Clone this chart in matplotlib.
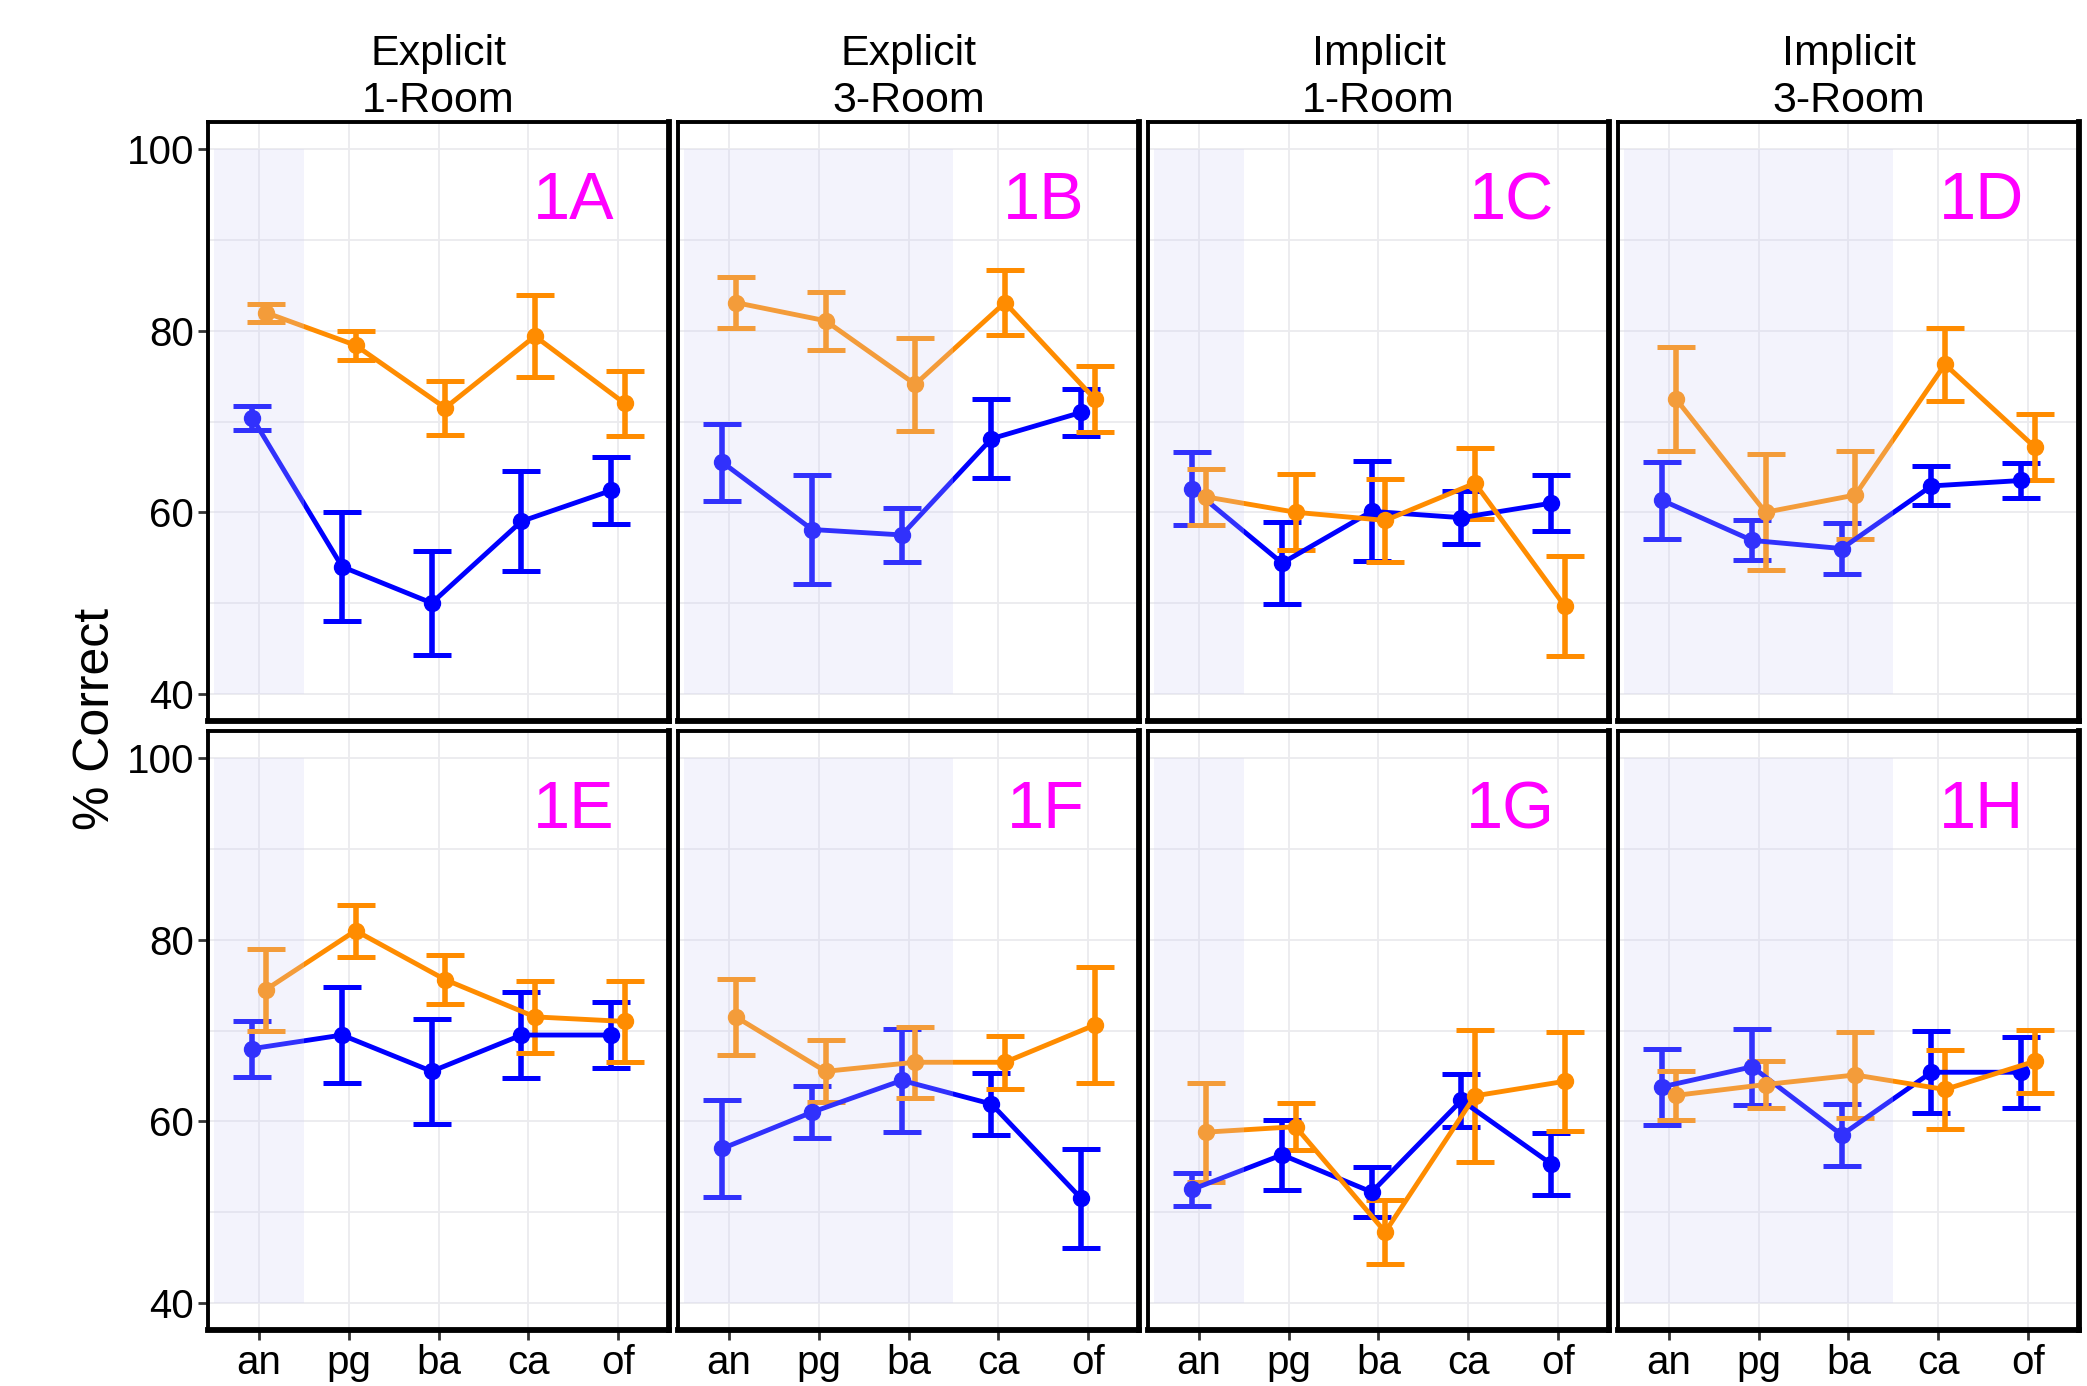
import matplotlib
matplotlib.use("Agg")
import matplotlib.pyplot as plt
import numpy as np

plt.rcParams['font.family'] = ['Liberation Sans', 'DejaVu Sans']

categories = ["an", "pg", "ba", "ca", "of"]
column_titles = ["Explicit\n1-Room", "Explicit\n3-Room", "Implicit\n1-Room", "Implicit\n3-Room"]
panel_labels = ["1A", "1B", "1C", "1D", "1E", "1F", "1G", "1H"]
y_ticks = [40, 60, 80, 100]
shade_end = [0.5, 2.5, 0.5, 2.5]

blue_1A = [70.4, 54.0, 50.0, 59.0, 62.4]
blue_err_1A = [1.35, 6.0, 5.75, 5.5, 3.7]
orange_1A = [82.0, 78.4, 71.5, 79.4, 72.0]
orange_err_1A = [1.0, 1.6, 3.0, 4.5, 3.6]

blue_1B = [65.5, 58.1, 57.5, 68.1, 71.0]
blue_err_1B = [4.25, 6.0, 2.95, 4.35, 2.6]
orange_1B = [83.1, 81.1, 74.1, 83.1, 72.5]
orange_err_1B = [2.85, 3.2, 5.1, 3.55, 3.65]

blue_1C = [62.6, 54.4, 60.1, 59.4, 61.0]
blue_err_1C = [4.05, 4.55, 5.5, 2.95, 3.1]
orange_1C = [61.7, 60.0, 59.1, 63.2, 49.7]
orange_err_1C = [3.1, 4.2, 4.55, 3.9, 5.5]

blue_1D = [61.3, 56.9, 56.0, 62.9, 63.5]
blue_err_1D = [4.25, 2.2, 2.8, 2.15, 1.95]
orange_1D = [72.5, 60.0, 61.9, 76.3, 67.2]
orange_err_1D = [5.75, 6.4, 4.9, 4.05, 3.6]

blue_1E = [68.0, 69.5, 65.5, 69.5, 69.5]
blue_err_1E = [3.1, 5.3, 5.75, 4.75, 3.65]
orange_1E = [74.5, 81.0, 75.6, 71.5, 71.0]
orange_err_1E = [4.5, 2.85, 2.7, 3.95, 4.45]

blue_1F = [57.0, 61.0, 64.5, 61.9, 51.5]
blue_err_1F = [5.35, 2.85, 5.7, 3.4, 5.45]
orange_1F = [71.5, 65.5, 66.5, 66.5, 70.6]
orange_err_1F = [4.2, 3.4, 3.9, 2.9, 6.35]

blue_1G = [52.5, 56.3, 52.2, 62.3, 55.3]
blue_err_1G = [1.85, 3.85, 2.8, 2.9, 3.4]
orange_1G = [58.8, 59.4, 47.8, 62.8, 64.4]
orange_err_1G = [5.45, 2.6, 3.55, 7.25, 5.45]

blue_1H = [63.8, 66.0, 58.5, 65.4, 65.4]
blue_err_1H = [4.2, 4.2, 3.4, 4.5, 3.9]
orange_1H = [62.85, 64.05, 65.1, 63.5, 66.6]
orange_err_1H = [2.7, 2.6, 4.7, 4.4, 3.45]

blue_series = [blue_1A, blue_1B, blue_1C, blue_1D, blue_1E, blue_1F, blue_1G, blue_1H]
blue_errs = [blue_err_1A, blue_err_1B, blue_err_1C, blue_err_1D,
             blue_err_1E, blue_err_1F, blue_err_1G, blue_err_1H]
orange_series = [orange_1A, orange_1B, orange_1C, orange_1D,
                 orange_1E, orange_1F, orange_1G, orange_1H]
orange_errs = [orange_err_1A, orange_err_1B, orange_err_1C, orange_err_1D,
               orange_err_1E, orange_err_1F, orange_err_1G, orange_err_1H]

BLUE = "#0000ff"
ORANGE = "#ff8c00"
W, H = 2087, 1386
fig = plt.figure(figsize=(W / 100, H / 100), dpi=100)

col_left = [208, 678, 1148, 1618]
col_w = 461
row_top = [122, 731]
row_h = 599

x = np.arange(len(categories))
dodge = 0.075

for i in range(8):
    r, c = divmod(i, 4)
    left = col_left[c]
    top = row_top[r]
    ax = fig.add_axes([left / W, 1 - (top + row_h) / H, col_w / W, row_h / H])
    ax.set_xlim(-0.57, 4.57)
    ax.set_ylim(37, 103)
    ax.set_xticks(x)
    ax.set_xticklabels(categories)
    ax.set_yticks(y_ticks)
    ax.set_yticks([50, 70, 90], minor=True)
    ax.grid(True, which='both', color='#ebebee', lw=1.3, zorder=0)
    ax.set_axisbelow(True)

    for series, errs, col, off in [(blue_series[i], blue_errs[i], BLUE, -dodge),
                                   (orange_series[i], orange_errs[i], ORANGE, dodge)]:
        ax.errorbar(x + off, series, yerr=errs, color=col, lw=3.5, elinewidth=4.0,
                    capsize=14, capthick=3.6, marker='o', markersize=11.5, zorder=2)

    # translucent shading drawn over the data
    ax.fill_between([-0.5, shade_end[c]], 40, 100, color=(0.81, 0.81, 0.96),
                    alpha=0.24, lw=0, zorder=3)

    ax.text(0.882, 0.838, panel_labels[i], transform=ax.transAxes, ha='right',
            va='baseline', color='#ff00ff', fontsize=48, zorder=4)

    for side in ['left', 'top']:
        ax.spines[side].set_linewidth(2.8)
    for side in ['right', 'bottom']:
        ax.spines[side].set_linewidth(4.2)
    for s in ax.spines.values():
        s.set_color('black')
        s.set_zorder(5)

    ax.tick_params(axis='both', which='major', direction='out', length=7, width=2,
                   labelsize=29, pad=3, color='#333333')
    ax.tick_params(axis='both', which='minor', length=0)
    if c != 0:
        ax.tick_params(axis='y', which='major', length=0, labelleft=False)
    if r == 0:
        ax.tick_params(axis='x', which='major', length=0, labelbottom=False)
        ax.set_title(column_titles[c], fontsize=31, linespacing=1.22, pad=7)

fig.text(96 / W, 1 - 719 / H, "% Correct", rotation=90, ha='center', va='center',
         fontsize=36)

fig.savefig("out.png", dpi=100, facecolor='white')
